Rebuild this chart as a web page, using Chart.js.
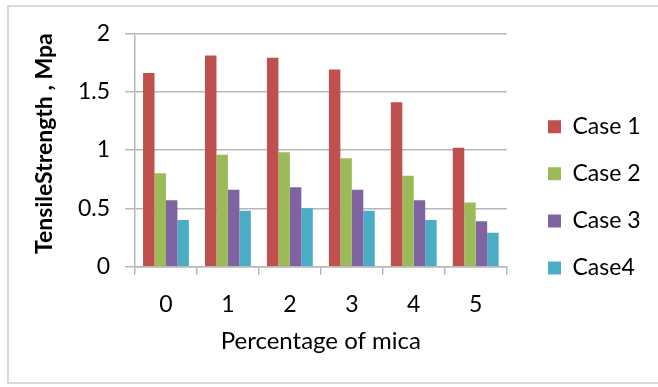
<!DOCTYPE html>
<html>
<head>
<meta charset="utf-8">
<script src="https://cdn.jsdelivr.net/npm/chart.js@4/dist/chart.umd.min.js"></script>
<style>
  html, body { margin: 0; padding: 0; background: #fff; }
  #wrap { position: relative; width: 658px; height: 387px; }
  #frame {
    position: absolute; left: 7px; top: 5px; width: 656px; height: 379px;
    border: 2px solid #d9d9d9; box-sizing: border-box; pointer-events: none;
  }
  canvas { position: absolute; left: 0; top: 0; }
</style>
</head>
<body>
<div id="wrap">
  <canvas id="chart" width="658" height="387"></canvas>
  <div id="frame"></div>
</div>
<script>
// Tensile strength (MPa) against mica content (%), four cases
const categories = ['0', '1', '2', '3', '4', '5'];
const case1 = [1.66, 1.81, 1.79, 1.69, 1.41, 1.02];
const case2 = [0.80, 0.96, 0.98, 0.93, 0.78, 0.55];
const case3 = [0.57, 0.66, 0.68, 0.66, 0.57, 0.39];
const case4 = [0.40, 0.48, 0.50, 0.48, 0.40, 0.29];
const seriesNames = ['Case 1', 'Case 2', 'Case 3', 'Case4'];
const seriesColors = ['#C0504D', '#9BBB59', '#8064A2', '#4BACC6'];
const yTicks = { min: 0, max: 2, step: 0.5 };

const FONT = 'Lato, Carlito, Calibri, sans-serif';
const GRID = '#b7b7b7';

const datasets = [case1, case2, case3, case4].map((values, i) => ({
  label: seriesNames[i],
  data: values,
  backgroundColor: seriesColors[i],
  borderWidth: 0,
  categoryPercentage: 0.74,
  barPercentage: 1.0
}));

new Chart(document.getElementById('chart'), {
  type: 'bar',
  data: { labels: categories, datasets },
  options: {
    responsive: false,
    animation: false,
    devicePixelRatio: 1,
    layout: { padding: { left: 8, top: 33.3, right: 17.1, bottom: 25.6 } },
    plugins: {
      tooltip: { enabled: false },
      legend: {
        position: 'right',
        maxWidth: 117,
        labels: {
          boxWidth: 13,
          boxHeight: 13,
          padding: 24.1,
          color: '#000',
          font: { family: FONT, size: 23 }
        }
      }
    },
    scales: {
      x: {
        grid: {
          display: true,
          drawOnChartArea: false,
          drawTicks: true,
          tickLength: 8,
          color: GRID,
          lineWidth: 1.5
        },
        border: { display: true, color: GRID, width: 1.5 },
        ticks: { color: '#000', padding: 16, font: { family: FONT, size: 23 } },
        title: {
          display: true,
          text: 'Percentage of mica',
          color: '#000',
          font: { family: FONT, size: 24 },
          padding: { top: 0, bottom: 5.3 }
        },
        afterFit: (scale) => { scale.height = 94.7; }
      },
      y: {
        min: yTicks.min,
        max: yTicks.max,
        grid: { color: GRID, lineWidth: 1.5, tickLength: 10 },
        border: { display: true, color: GRID, width: 1.5 },
        ticks: {
          stepSize: yTicks.step,
          color: '#000',
          padding: 15,
          font: { family: FONT, size: 23 },
          callback: (value) => String(Number(value.toFixed(2)))
        },
        title: {
          display: true,
          text: 'TensileStrength , Mpa',
          align: 'end',
          color: '#000',
          font: { family: FONT, size: 23, weight: 'bold' },
          padding: { top: 23.2, bottom: 0 }
        },
        afterFit: (scale) => { scale.width = 127; }
      },
      // empty strip between the plot and the legend
      gutter: {
        type: 'linear',
        position: 'right',
        display: true,
        grid: { display: false, drawTicks: false },
        border: { display: false },
        ticks: { display: false },
        afterFit: (scale) => { scale.width = 17.2; }
      }
    }
  }
});
</script>
</body>
</html>
